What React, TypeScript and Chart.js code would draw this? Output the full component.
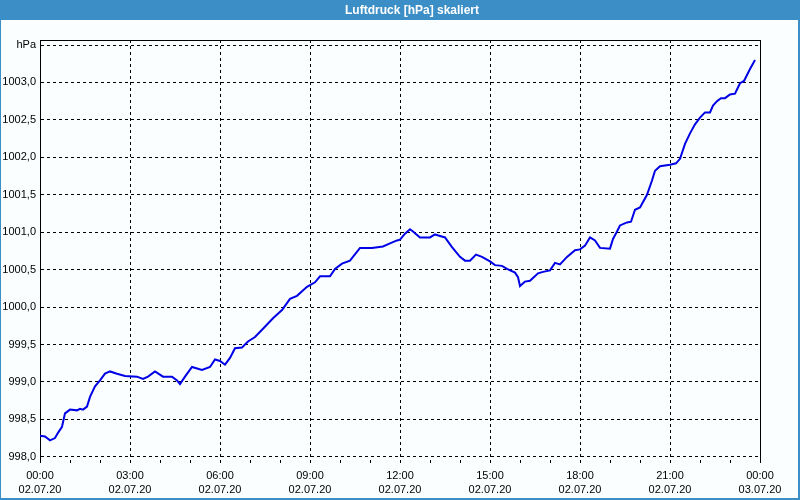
import React, { useEffect, useRef } from 'react';
import { Chart, registerables } from 'chart.js';

Chart.register(...registerables);

const chartTitle = 'Luftdruck [hPa] skaliert';

// minutes since 02.07.20 00:00
const minutes = [
  0, 10, 20, 30, 36, 44, 50, 60, 74, 80,
  86, 94, 100, 110, 120, 130, 140, 154, 170, 194,
  206, 216, 230, 246, 264, 274, 280, 290, 304, 324,
  340, 350, 360, 370, 380, 390, 404, 416, 430, 446,
  466, 484, 500, 514, 534, 550, 560, 580, 590, 604,
  620, 640, 664, 686, 700, 714, 720, 730, 740, 746,
  760, 780, 790, 800, 810, 824, 840, 850, 860, 872,
  884, 900, 910, 924, 934, 950, 956, 960, 970, 980,
  996, 1006, 1020, 1030, 1040, 1054, 1070, 1080, 1090, 1100,
  1110, 1120, 1140, 1146, 1154, 1160, 1174, 1182, 1190, 1200,
  1214, 1224, 1230, 1240, 1260, 1272, 1280, 1290, 1300, 1310,
  1320, 1330, 1340, 1346, 1354, 1362, 1370, 1380, 1390, 1400,
  1408, 1420, 1430,
];

// air pressure in hPa
const pressure = [
  998.28, 998.27, 998.22, 998.25, 998.32, 998.40, 998.58, 998.63, 998.62, 998.64,
  998.63, 998.67, 998.80, 998.94, 999.02, 999.11, 999.14, 999.11, 999.08, 999.07,
  999.04, 999.07, 999.14, 999.07, 999.07, 999.02, 998.97, 999.07, 999.20, 999.16,
  999.20, 999.30, 999.28, 999.23, 999.32, 999.45, 999.46, 999.54, 999.60, 999.71,
  999.85, 999.96, 1000.11, 1000.15, 1000.27, 1000.33, 1000.41, 1000.41, 1000.51, 1000.58,
  1000.62, 1000.79, 1000.79, 1000.81, 1000.85, 1000.89, 1000.90, 1000.98, 1001.04, 1001.01,
  1000.93, 1000.93, 1000.97, 1000.95, 1000.93, 1000.80, 1000.67, 1000.62, 1000.62, 1000.70,
  1000.67, 1000.61, 1000.56, 1000.55, 1000.51, 1000.46, 1000.40, 1000.28, 1000.34, 1000.35,
  1000.45, 1000.47, 1000.49, 1000.59, 1000.57, 1000.67, 1000.76, 1000.77, 1000.82, 1000.93,
  1000.89, 1000.79, 1000.78, 1000.91, 1001.01, 1001.09, 1001.13, 1001.14, 1001.30, 1001.33,
  1001.50, 1001.69, 1001.82, 1001.88, 1001.90, 1001.92, 1001.98, 1002.18, 1002.32, 1002.44,
  1002.53, 1002.60, 1002.60, 1002.69, 1002.75, 1002.79, 1002.79, 1002.84, 1002.85, 1002.99,
  1003.02, 1003.18, 1003.30,
];

const yTickValues = [998.0, 998.5, 999.0, 999.5, 1000.0, 1000.5, 1001.0, 1001.5, 1002.0, 1002.5, 1003.0, 1003.5];
const yTickLabels = ['998,0', '998,5', '999,0', '999,5', '1000,0', '1000,5', '1001,0', '1001,5', '1002,0', '1002,5', '1003,0', 'hPa'];

const xTickMinutes = [
  0, 60, 120, 180, 240, 300, 360, 420, 480, 540, 600, 660, 720,
  780, 840, 900, 960, 1020, 1080, 1140, 1200, 1260, 1320, 1380, 1440,
];
const xLabelMinutes = [0, 180, 360, 540, 720, 900, 1080, 1260, 1440];
const xTimeLabels = ['00:00', '03:00', '06:00', '09:00', '12:00', '15:00', '18:00', '21:00', '00:00'];
const xDateLabels = ['02.07.20', '02.07.20', '02.07.20', '02.07.20', '02.07.20', '02.07.20', '02.07.20', '02.07.20', '03.07.20'];

const BG = '#fbfefe';
const BLUE_FRAME = '#3c8fc6';

const framePlugin = {
  id: 'frame',
  beforeDraw(chart: any) {
    const { ctx, width, height } = chart;
    ctx.save();
    ctx.fillStyle = BG;
    ctx.fillRect(0, 0, width, height);
    ctx.fillStyle = BLUE_FRAME;
    ctx.fillRect(0, 0, width, 20);
    ctx.fillRect(0, 0, 1, height);
    ctx.fillRect(width - 2, 0, 2, height);
    ctx.fillRect(0, height - 2, width, 2);
    ctx.fillStyle = '#ffffff';
    ctx.font = 'bold 12px "Liberation Sans"';
    ctx.textBaseline = 'middle';
    ctx.textAlign = 'left';
    ctx.fillText(chartTitle, 345, 10.5);
    ctx.restore();
  },
  afterDraw(chart: any) {
    const { ctx, chartArea } = chart;
    const { left, right, top, bottom } = chartArea;
    ctx.save();
    ctx.strokeStyle = '#000000';
    ctx.lineWidth = 1;
    ctx.setLineDash([]);
    ctx.beginPath();
    ctx.moveTo(left, Math.round(top) + 0.5);
    ctx.lineTo(Math.round(right) + 0.5, Math.round(top) + 0.5);
    ctx.lineTo(Math.round(right) + 0.5, bottom + 3);
    ctx.stroke();
    ctx.restore();
  },
};

export default function App() {
  const canvasRef = useRef<HTMLCanvasElement | null>(null);

  useEffect(() => {
    if (!canvasRef.current) return;
    const points = minutes.map((m, i) => ({ x: m, y: pressure[i] }));
    const chart = new Chart(canvasRef.current, {
      type: 'line',
      data: {
        datasets: [
          {
            data: points,
            borderColor: '#0000e6',
            borderWidth: 2,
            pointRadius: 0,
            tension: 0,
            fill: false,
          },
        ],
      },
      options: {
        responsive: false,
        animation: false,
        layout: { padding: { top: 40, right: 40, left: 0, bottom: 0 } },
        plugins: {
          legend: { display: false },
          tooltip: { enabled: false },
          title: { display: false },
        },
        scales: {
          x: {
            type: 'linear',
            min: 0,
            max: 1440,
            afterBuildTicks: (scale: any) => {
              scale.ticks = xTickMinutes.map((v) => ({ value: v }));
            },
            afterFit: (scale: any) => {
              scale.height = 40;
            },
            border: { display: false, dash: [3, 3] },
            grid: {
              color: (ctx: any) => {
                const v = ctx.tick ? ctx.tick.value : -1;
                return xLabelMinutes.includes(v) ? '#000000' : 'rgba(0,0,0,0)';
              },
              tickColor: '#000000',
              tickLength: 3,
              lineWidth: 1,
              drawTicks: true,
            },
            ticks: {
              autoSkip: false,
              maxRotation: 0,
              minRotation: 0,
              padding: 6,
              color: '#000000',
              font: { family: 'Liberation Sans', size: 11, lineHeight: 1.27 },
              callback: (value: any) => {
                const i = xLabelMinutes.indexOf(Number(value));
                return i >= 0 ? [xTimeLabels[i], xDateLabels[i]] : '';
              },
            },
          },
          y: {
            type: 'linear',
            min: 997.957,
            max: 1003.567,
            afterBuildTicks: (scale: any) => {
              scale.ticks = yTickValues.map((v) => ({ value: v }));
            },
            afterFit: (scale: any) => {
              scale.width = 40;
            },
            border: { display: true, color: '#000000', width: 1, dash: [3, 3] },
            grid: {
              color: '#000000',
              lineWidth: 1,
              drawTicks: false,
            },
            ticks: {
              padding: 4,
              color: '#000000',
              font: { family: 'Liberation Sans', size: 11 },
              callback: (value: any) => {
                const i = yTickValues.indexOf(Number(value));
                return i >= 0 ? yTickLabels[i] : '';
              },
            },
          },
        },
      },
      plugins: [framePlugin],
    });
    return () => chart.destroy();
  }, []);

  return (
    <div style={{ position: 'fixed', left: 0, top: 0, width: 800, height: 500 }}>
      <canvas ref={canvasRef} width={800} height={500} style={{ display: 'block' }} />
    </div>
  );
}
